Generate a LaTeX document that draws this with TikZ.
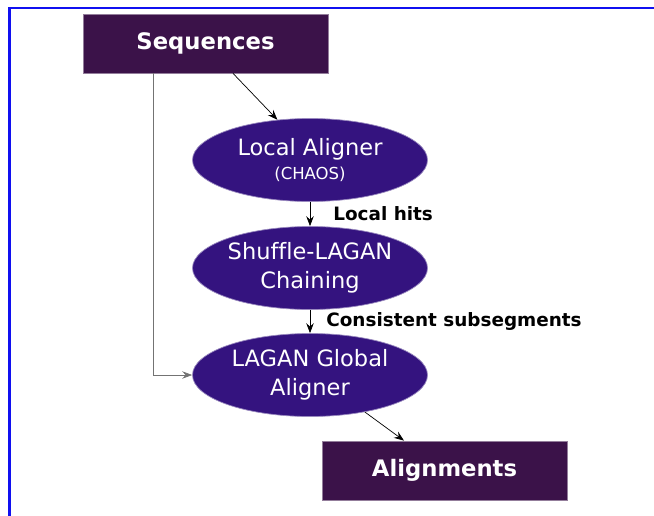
\documentclass[tikz,border=0pt]{standalone}
\usepackage{fontspec}
\setmainfont{DejaVu Sans}[Ligatures=NoCommon]
\usepackage{tikz}
\usetikzlibrary{arrows, arrows.meta, calc, shapes.geometric}

\definecolor{boxpurple}{HTML}{3B1249}
\definecolor{stagepurple}{HTML}{34137F}
\definecolor{framblue}{HTML}{1010F0}

\tikzset{
    databox/.style={draw=boxpurple!55, fill=boxpurple, text=white, font=\fontsize{22.7}{26}\selectfont\bfseries,
        minimum width=245pt, minimum height=59pt, inner sep=0pt},
    stage/.style={ellipse, draw=stagepurple!50, fill=stagepurple, text=white, align=center,
        font=\fontsize{22.5}{29}\selectfont, minimum width=235pt, minimum height=83pt, inner sep=0pt},
    flowlabel/.style={font=\fontsize{18.4}{21}\selectfont\bfseries, inner sep=0pt, anchor=west}
}

\begin{document}
\begin{tikzpicture}[x=1pt, y=-1pt, >={Stealth[length=10pt, width=7.5pt, inset=3.5pt]}, line width=0.7pt]
                    \useasboundingbox (0, 0) rectangle (654, 515);
                    \clip (0, 0) rectangle (654, 515);
                    \draw[framblue, line width=2.5pt] (9.5, 600) |- (700, 8);
                    \node[databox] (seq) at (205.5, 43.5) {Sequences};
                    \node[stage] (local) at (310, 160) {\raisebox{-2pt}{Local Aligner}\\[-3pt]{\fontsize{16.5}{18}\selectfont (CHAOS)}};
                    \node[stage] (shuf) at (310, 268) {Shuffle-LAGAN\\Chaining};
                    \node[stage] (glob) at (310, 375) {LAGAN Global\\Aligner};
                    \node[databox] (align) at (444.5, 470.5) {Alignments};
                    \draw[->] ([xshift=27.5pt]seq.south) -- (local.129.5);
                    \draw[->] (local) -- (shuf) node[midway, flowlabel, xshift=23pt] {Local hits};
                    \draw[->] (shuf) -- (glob) node[midway, flowlabel, xshift=16pt] {Consistent subsegments};
                    \draw[->, black!55] ([xshift=-52.5pt]seq.south) |- (glob.west);
                    \draw[->] (glob.-34) -- ([xshift=-40.5pt]align.north);
                \end{tikzpicture}
\end{document}
